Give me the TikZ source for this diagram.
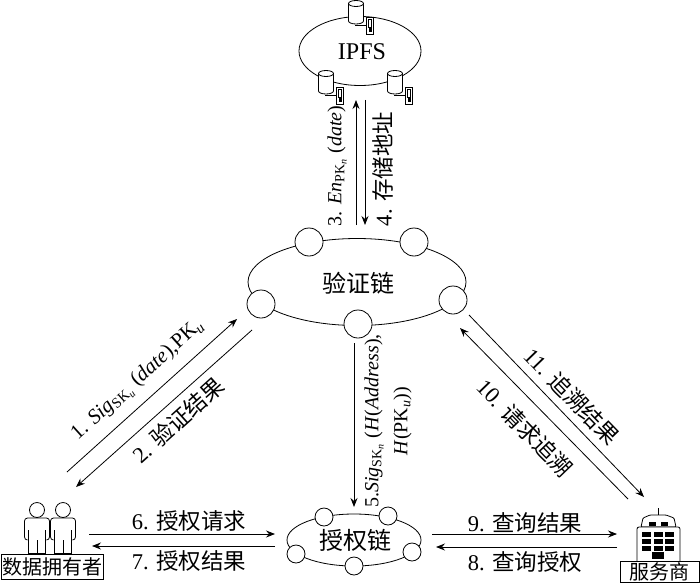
\documentclass[tikz,border=0pt]{standalone}
\usepackage{amsmath}
\usepackage{fontspec}
\setmainfont{Liberation Serif}
\newfontfamily\cjk{Noto Sans CJK SC}
\usepackage{tikz}
\usetikzlibrary{arrows.meta,shapes.geometric}
\tikzset{
    chainring/.style={draw, ellipse, inner sep=0pt, fill=white},
    bigpeer/.style={draw, circle, fill=white, inner sep=0pt, minimum size=28pt},
    smallpeer/.style={draw, circle, fill=white, inner sep=0pt, minimum size=18pt},
    linktext/.style={font=\fontsize{21}{29}\selectfont, inner sep=0pt, align=center},
    uprighttext/.style={font=\fontsize{20}{29}\selectfont, inner sep=0pt, align=center},
    hantext/.style={font=\fontsize{22.5}{27}\selectfont, inner sep=0pt},
    titletext/.style={font=\fontsize{24}{28}\selectfont, inner sep=0pt},
    namebox/.style={draw, fill=white, inner sep=0pt, font=\fontsize{20}{22}\selectfont},
    storeicon/.pic={
        \draw[fill=white] (-7.5,2.5) -- (-7.5,20) arc[start angle=180, end angle=0, x radius=7.5, y radius=3] -- (7.5,2.5);
        \draw[fill=white] (0,2.5) ellipse[x radius=7.5, y radius=3];
        \draw (-1,24.5) -- (10,24.5);
        \draw[fill=white] (10,16) rectangle (17,33);
        \draw[line width=0.4pt] (12,18) rectangle (15,26);
        \fill (12.5,27) rectangle (16,31);
    },
    personicon/.pic={
        \draw (0,0) circle[radius=7.5];
        \draw[rounded corners=3pt] (-9.5,30) -- (-12.5,30) -- (-12.5,8) -- (12.5,8) -- (12.5,30) -- (9.5,30);
        \draw (-8.5,20) -- (-8.5,43) -- (8.5,43) -- (8.5,20);
        \draw (0,30) -- (0,43);
    },
}
\begin{document}
\begin{tikzpicture}[x=1pt, y=-1pt, line width=0.8pt, >={Stealth[length=9pt, width=7pt, inset=3pt]}]
    \useasboundingbox (0,0) rectangle (700,583);
    % IPFS
    \node[chainring, minimum width=122pt, minimum height=69pt] (ipfsring) at (360,51) {};
    \node[titletext] (ipfstext) at (362,52) {IPFS};
    \pic at (356,1) {storeicon};
    \pic at (326,71) {storeicon};
    \pic at (395,71) {storeicon};
    % verification chain
    \node[chainring, minimum width=218pt, minimum height=87pt] (verifyring) at (357,282) {};
    \node[bigpeer] (verifya) at (309,242) {};
    \node[bigpeer] (verifyb) at (414,242) {};
    \node[bigpeer] (verifyc) at (261,304) {};
    \node[bigpeer] (verifyd) at (358,324) {};
    \node[bigpeer] (verifye) at (453,300) {};
    \node[titletext] (verifytext) at (358,283) {\cjk 验证链};
    % authorization chain
    \node[chainring, minimum width=134pt, minimum height=52pt] (authring) at (354,540) {};
    \node[smallpeer] (autha) at (324,517) {};
    \node[smallpeer] (authb) at (388,516) {};
    \node[smallpeer] (authc) at (296,554) {};
    \node[smallpeer] (authd) at (412,552) {};
    \node[smallpeer] (authe) at (354,566) {};
    \node[titletext] (authtext) at (355,540) {\cjk 授权链};
    % data owner
    \pic at (37,510) {personicon};
    \pic at (63,510) {personicon};
    \node[namebox, minimum width=102pt, minimum height=25pt] (owner) at (52,566.5) {\cjk 数据拥有者};
    % service provider
    \draw (658,508) -- (658,515);
    \draw[fill=white, rounded corners=1pt] (641,527) -- (643,518) -- (650,515) -- (666,515) -- (674,518) -- (676,527) -- cycle;
    \fill (649,522) rectangle (656,526);
    \fill (661,522) rectangle (668,526);
    \draw[fill=white, rounded corners=2pt] (637,561) -- (637,527) -- (680,527) -- (680,561);
    \fill (642,532) rectangle (651,537);
    \fill (654,532) rectangle (663,537);
    \fill (665,532) rectangle (674,537);
    \fill (642,539) rectangle (651,544);
    \fill (654,539) rectangle (663,544);
    \fill (665,539) rectangle (674,544);
    \fill (642,546) rectangle (651,551);
    \fill (654,546) rectangle (663,551);
    \fill (665,546) rectangle (674,551);
    \fill (652,552) rectangle (664,559);
    \node[namebox, minimum width=79pt, minimum height=21pt] (provider) at (659.5,571.5) {\cjk 服务商};
    % free ends of the links
    \coordinate (linkaa) at (67,472);
    \coordinate (linkab) at (237,319);
    \coordinate (linkba) at (252,330);
    \coordinate (linkbb) at (76,487);
    \coordinate (linkca) at (356,225);
    \coordinate (linkcb) at (356,100);
    \coordinate (linkda) at (365,100);
    \coordinate (linkdb) at (365,225);
    \coordinate (linkea) at (354,343);
    \coordinate (linkeb) at (354,507);
    \coordinate (linkfa) at (89,534);
    \coordinate (linkfb) at (275,534);
    \coordinate (linkga) at (275,546);
    \coordinate (linkgb) at (92,546);
    \coordinate (linkha) at (617,547);
    \coordinate (linkhb) at (436,547);
    \coordinate (linkia) at (432,534);
    \coordinate (linkib) at (617,534);
    \coordinate (linkja) at (628,499);
    \coordinate (linkjb) at (460,328);
    \coordinate (linkka) at (469,315);
    \coordinate (linkkb) at (644,497);
    \draw[->] (linkaa) -- (linkab);
    \draw[->] (linkba) -- (linkbb);
    \draw[->] (linkca) -- (linkcb);
    \draw[->] (linkda) -- (linkdb);
    \draw[->] (linkea) -- (linkeb);
    \draw[->] (linkfa) -- (linkfb);
    \draw[->] (linkga) -- (linkgb);
    \draw[->] (linkha) -- (linkhb);
    \draw[->] (linkia) -- (linkib);
    \draw[->] (linkja) -- (linkjb);
    \draw[->] (linkka) -- (linkkb);
    % link labels
    \node[linktext, rotate=42] (labela) at (138,380) {1. \textit{Sig}$_{\text{SK}_{\textit{u}}}$ (\textit{date}),PK$_{\textit{u}}$};
    \node[hantext, rotate=42] (labelb) at (178,420) {2. {\cjk 验证结果}};
    \node[uprighttext, rotate=90] (labelc) at (337,166) {3. \textit{En}$_{\text{PK}_{\textit{n}}}$ (\textit{date})};
    \node[hantext, rotate=90] (labeld) at (383,169) {4. {\cjk 存储地址}};
    \node[uprighttext, rotate=90] (labele) at (388,421) {5.\textit{Sig}$_{\text{SK}_{\textit{n}}}$ (\textit{H}(\textit{Address}),\\\textit{H}(PK$_{\textit{u}}$))};
    \node[hantext] (labelf) at (189,521) {6. {\cjk 授权请求}};
    \node[hantext] (labelg) at (189,561) {7. {\cjk 授权结果}};
    \node[hantext] (labelh) at (525,562) {8. {\cjk 查询授权}};
    \node[hantext] (labeli) at (525,523) {9. {\cjk 查询结果}};
    \node[hantext, rotate=-46] (labelj) at (525,428) {10. {\cjk 请求追溯}};
    \node[hantext, rotate=-46] (labelk) at (572,396) {11. {\cjk 追溯结果}};
\end{tikzpicture}
\end{document}
